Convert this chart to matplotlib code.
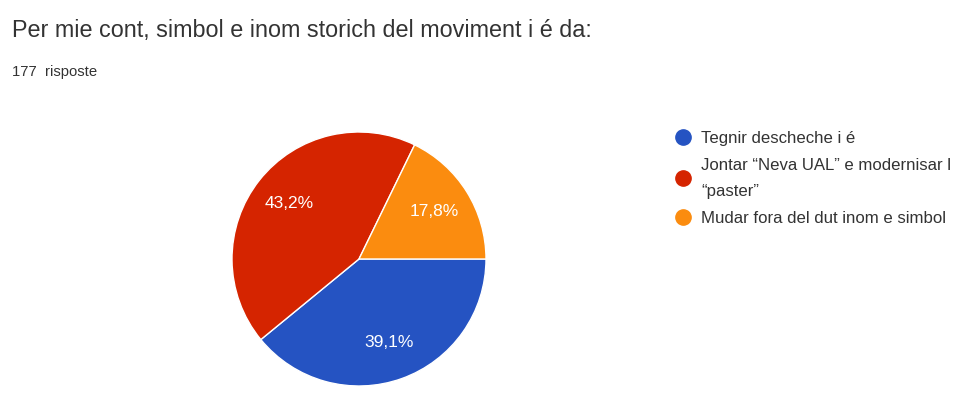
import matplotlib.pyplot as plt
from matplotlib.lines import Line2D

plt.rcParams['font.family'] = ['Liberation Sans', 'DejaVu Sans']

# Data
title = "Per mie cont, simbol e inom storich del moviment i é da:"
subtitle = "177  risposte"
labels = ["Tegnir descheche i é",
          "Jontar “Neva UAL” e modernisar l\n“paster”",
          "Mudar fora del dut inom e simbol"]
shares = [39.1, 43.2, 17.8]
colors = ["#2553c2", "#d52400", "#fb8c0f"]

fig = plt.figure(figsize=(9.8, 4.0), dpi=100)
fig.patch.set_facecolor('white')

fig.text(12 / 980, 1 - 30 / 400, title, fontsize=16.8, color='#333333', va='center', ha='left')
fig.text(12 / 980, 1 - 72 / 400, subtitle, fontsize=10.7, color='#333333', va='center', ha='left')

# Pie axes: centre about (359, 259) px, radius 127 px
ax = fig.add_axes([232 / 980, 14 / 400, 254 / 980, 254 / 400])
wedges, texts, autotexts = ax.pie(
    shares, colors=colors, startangle=0, counterclock=False,
    autopct=lambda p: f"{p:.1f}%".replace('.', ','), pctdistance=0.7,
    wedgeprops=dict(edgecolor='white', linewidth=1),
    textprops=dict(color='white', fontsize=12.5))
ax.set_xlim(-1, 1)
ax.set_ylim(-1, 1)
ax.set_aspect('equal')

# Legend
handles = [Line2D([], [], marker='o', linestyle='none', markersize=11,
                  markerfacecolor=c, markeredgecolor=c) for c in colors]
leg = fig.legend(handles, labels, loc='upper left', bbox_to_anchor=(677 / 980, 1 - 131 / 400),
                 frameon=False, fontsize=12.1, handlelength=0.7, handletextpad=0.75,
                 labelspacing=0.72, borderaxespad=0, borderpad=0)
for t in leg.get_texts():
    t.set_color('#333333')
    t.set_linespacing(1.88)

fig.savefig('out.png', dpi=100, facecolor='white')
